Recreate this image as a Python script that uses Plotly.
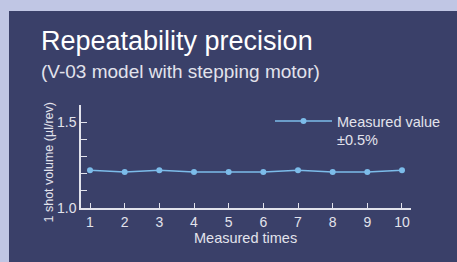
import plotly.graph_objects as go

measured_times = [1, 2, 3, 4, 5, 6, 7, 8, 9, 10]
shot_volume = [1.22, 1.21, 1.22, 1.21, 1.21, 1.21, 1.22, 1.21, 1.21, 1.22]
y_tick_vals = [1.0, 1.1, 1.2, 1.3, 1.4, 1.5]
y_tick_text = ["1.0", "", "", "", "", "1.5"]

W, H = 457, 262
L, R, T, B = 81, 46, 105, 54
PW, PH = W - L - R, H - T - B

def px(x):
    return (x - L) / PW

def py(y):
    return (H - B - y) / PH

FONT = "Liberation Sans, Arial, Helvetica, sans-serif"
TXT = "#e2e3ec"
LINE = "#7cbcea"

fig = go.Figure()
fig.add_trace(go.Scatter(
    x=measured_times, y=shot_volume, mode="lines+markers",
    name="Measured value<br>±0.5%",
    line=dict(color=LINE, width=1.5),
    marker=dict(color=LINE, size=6),
))

fig.update_layout(
    width=W, height=H,
    margin=dict(l=L, r=R, t=T, b=B, autoexpand=False),
    paper_bgcolor="#c0c6e4",
    plot_bgcolor="rgba(0,0,0,0)",
    font=dict(family=FONT, color=TXT, size=13),
    showlegend=True,
    legend=dict(x=px(270), y=py(105), xanchor="left", yanchor="top",
                bgcolor="rgba(0,0,0,0)", font=dict(size=14.5, color=TXT),
                itemwidth=57, valign="top"),
    shapes=[dict(type="rect", xref="paper", yref="paper",
                 x0=px(9), x1=px(W + 5), y0=py(H + 5), y1=py(11),
                 fillcolor="#3a4069", line=dict(width=0), layer="below")],
    annotations=[
        dict(text="Repeatability precision", xref="paper", yref="paper",
             x=px(39), y=py(41), xanchor="left", yanchor="middle",
             showarrow=False, font=dict(size=27, color="#ffffff")),
        dict(text="(V-03 model with stepping motor)", xref="paper", yref="paper",
             x=px(39), y=py(71.5), xanchor="left", yanchor="middle",
             showarrow=False, font=dict(size=19, color=TXT)),
        dict(text="1 shot volume (µl/rev)", xref="paper", yref="paper",
             x=px(48.5), y=py(163), xanchor="center", yanchor="middle",
             textangle=-90, showarrow=False, font=dict(size=12.5, color=TXT)),
        dict(text="Measured times", xref="paper", yref="paper",
             x=px(245), y=py(237.5), xanchor="center", yanchor="middle",
             showarrow=False, font=dict(size=14.5, color=TXT)),
    ],
)

fig.update_xaxes(
    range=[0.74, 10.26], tickvals=measured_times, automargin=False,
    ticks="inside", ticklen=5, tickwidth=1.2, tickcolor=TXT,
    showline=True, linecolor=TXT, linewidth=1.5, showgrid=False, zeroline=False,
    tickfont=dict(size=14, color=TXT),
)
fig.update_yaxes(
    range=[1.0, 1.6], tickvals=y_tick_vals, ticktext=y_tick_text, automargin=False,
    ticks="inside", ticklen=6, tickwidth=1.2, tickcolor=TXT,
    showline=True, linecolor=TXT, linewidth=1.5, showgrid=False, zeroline=False,
    tickfont=dict(size=14, color=TXT),
)

fig.write_html("out.html", config={"displayModeBar": False},
               post_script="document.body.style.margin='0';")
